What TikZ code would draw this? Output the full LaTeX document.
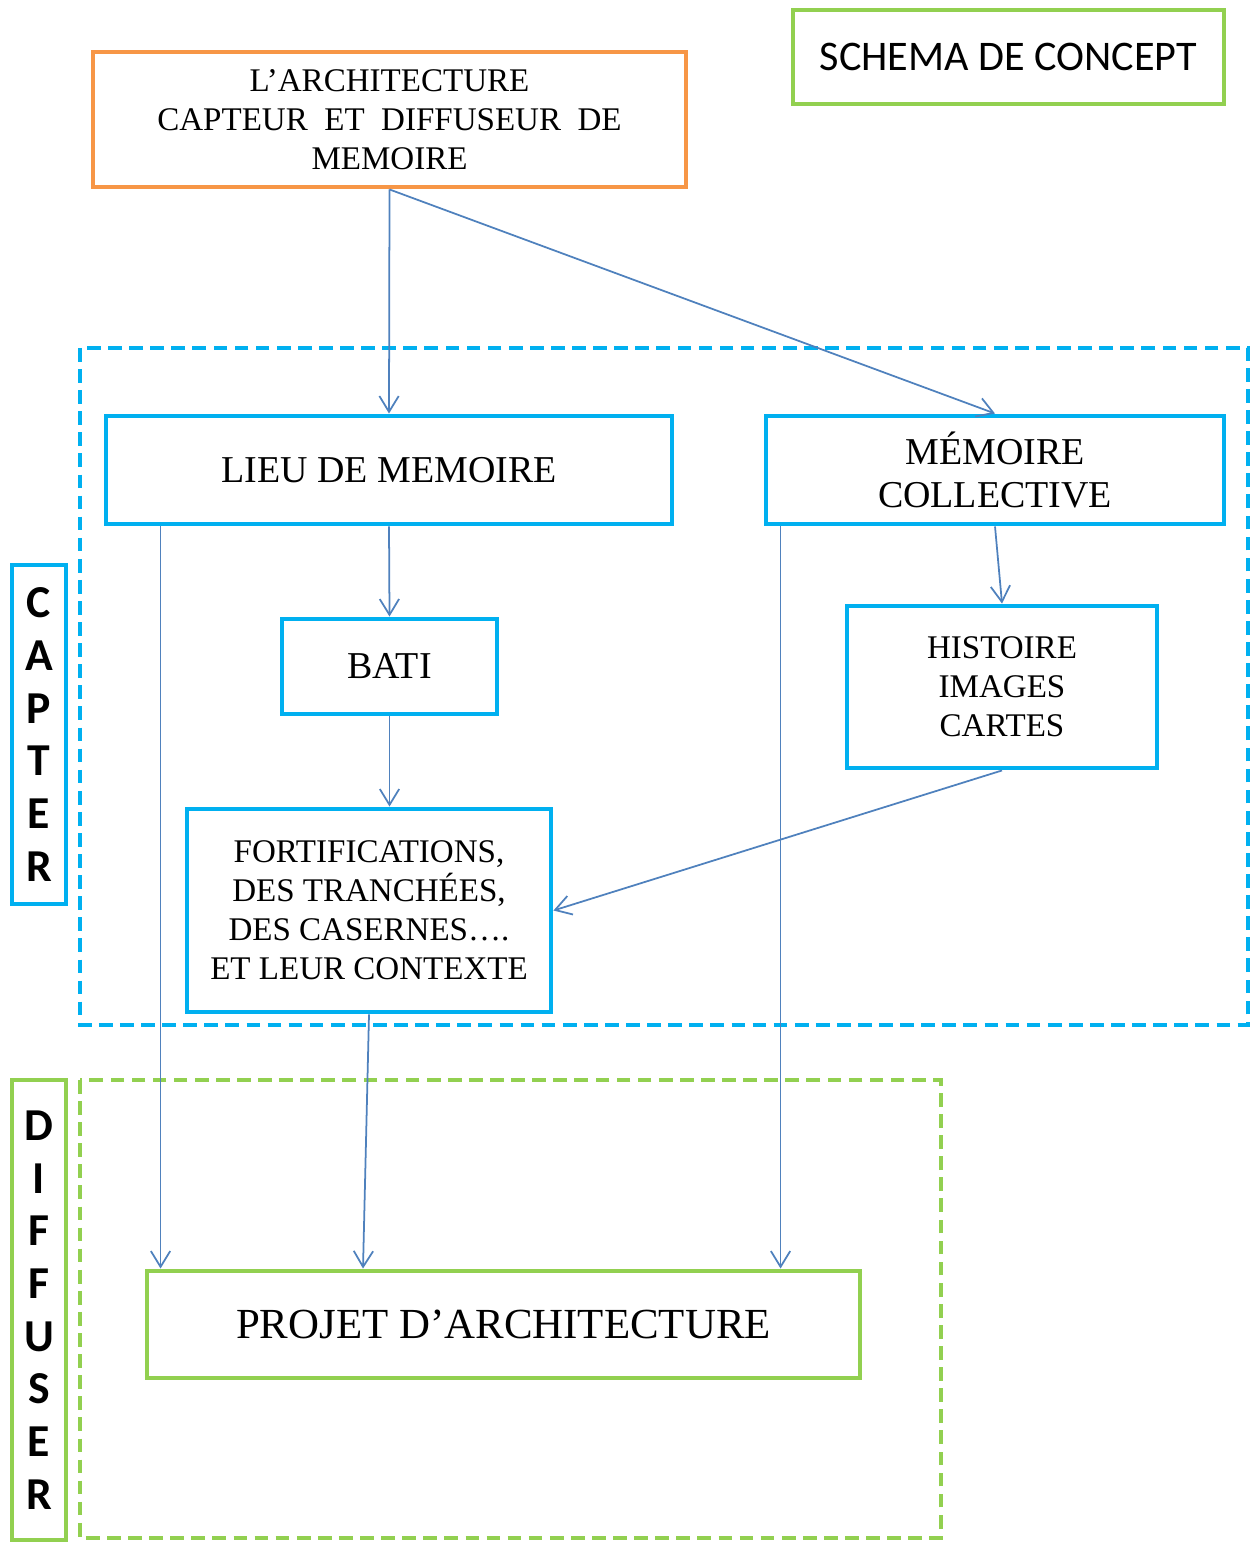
\documentclass[tikz,border=0pt]{standalone}
\usepackage{fontspec}
\setmainfont{Liberation Serif}
\newfontfamily\calibri{Carlito}
\usetikzlibrary{arrows.meta}

\begin{document}
\begin{tikzpicture}[
    box/.style={draw, line width=1.4pt, align=center, inner sep=0pt},
    petit/.style={font=\fontsize{9.4}{11.1}\selectfont},
    grand/.style={font=\fontsize{10.8}{12.5}\selectfont},
    lettres/.style={font=\calibri\bfseries\fontsize{13}{15}\selectfont},
    fleche/.style={draw=flecheblue, line width=0.5pt, -{Straight Barb[length=4.5pt,width=5.5pt]}},
    zone/.style={line width=1.2pt, dash pattern=on 3.9pt off 2.1pt}
]
            \definecolor{archorange}{RGB}{247,150,70};
            \definecolor{capterblue}{RGB}{0,176,240};
            \definecolor{diffgreen}{RGB}{146,208,80};
            \definecolor{flecheblue}{RGB}{79,129,189};

            \useasboundingbox (0,0) rectangle (12.5,-15.42);

            % les deux zones en pointilles
            \draw[zone, draw=capterblue] (0.80,-3.48) rectangle (12.48,-10.25);
            \draw[zone, draw=diffgreen] (0.80,-10.80) rectangle (9.41,-15.38);

            % titre et source
            \node[box, draw=diffgreen, font=\calibri\fontsize{12}{14}\selectfont, minimum width=4.31cm, minimum height=0.94cm] (titre) at (10.085,-0.57) {SCHEMA DE CONCEPT};
            \node[box, draw=archorange, petit, minimum width=5.93cm, minimum height=1.35cm] (archi) at (3.895,-1.195) {L’ARCHITECTURE\\CAPTEUR~~ET~~DIFFUSEUR~~DE\\MEMOIRE};

            % capter
            \node[box, draw=capterblue, grand, minimum width=5.66cm, minimum height=1.08cm] (lieu) at (3.89,-4.70) {LIEU DE MEMOIRE};
            \node[box, draw=capterblue, grand, minimum width=4.58cm, minimum height=1.08cm] (memoire) at (9.95,-4.70) {MÉMOIRE\\COLLECTIVE};
            \node[box, draw=capterblue, grand, minimum width=2.15cm, minimum height=0.95cm] (bati) at (3.895,-6.665) {BATI};
            \node[box, draw=capterblue, petit, minimum width=3.10cm, minimum height=1.62cm] (histoire) at (10.02,-6.87) {HISTOIRE\\IMAGES\\CARTES};
            \node[box, draw=capterblue, petit, minimum width=3.64cm, minimum height=2.03cm] (fort) at (3.69,-9.105) {FORTIFICATIONS,\\DES TRANCHÉES,\\DES CASERNES….\\ET LEUR CONTEXTE};
            \node[box, draw=capterblue, lettres, minimum width=0.54cm, minimum height=3.39cm] (capter) at (0.39,-7.345) {C\\A\\P\\T\\E\\R};

            % diffuser
            \node[box, draw=diffgreen, font=\fontsize{12.2}{14}\selectfont, minimum width=7.13cm, minimum height=1.07cm] (projet) at (5.035,-13.245) {PROJET D’ARCHITECTURE};
            \node[box, draw=diffgreen, lettres, minimum width=0.54cm, minimum height=4.60cm] (diffuser) at (0.39,-13.10) {D\\I\\F\\F\\U\\S\\E\\R};

            % fleches
            \draw[fleche] (archi.south) -- (lieu.north);
            \draw[fleche] (archi.south) -- (memoire.north);
            \draw[fleche] (lieu.south) -- (bati.north);
            \draw[fleche] (bati.south) -- (bati.south |- fort.north);
            \draw[fleche] (memoire.south) -- (histoire.north);
            \draw[fleche] (histoire.south) -- (fort.east);
            \draw[fleche] ([xshift=0.57cm]lieu.south west) coordinate (l1) -- (l1 |- projet.north);
            \draw[fleche] (fort.south) -- ([xshift=-1.405cm]projet.north);
            \draw[fleche] ([xshift=0.17cm]memoire.south west) coordinate (m1) -- (m1 |- projet.north);

        \end{tikzpicture}
\end{document}
